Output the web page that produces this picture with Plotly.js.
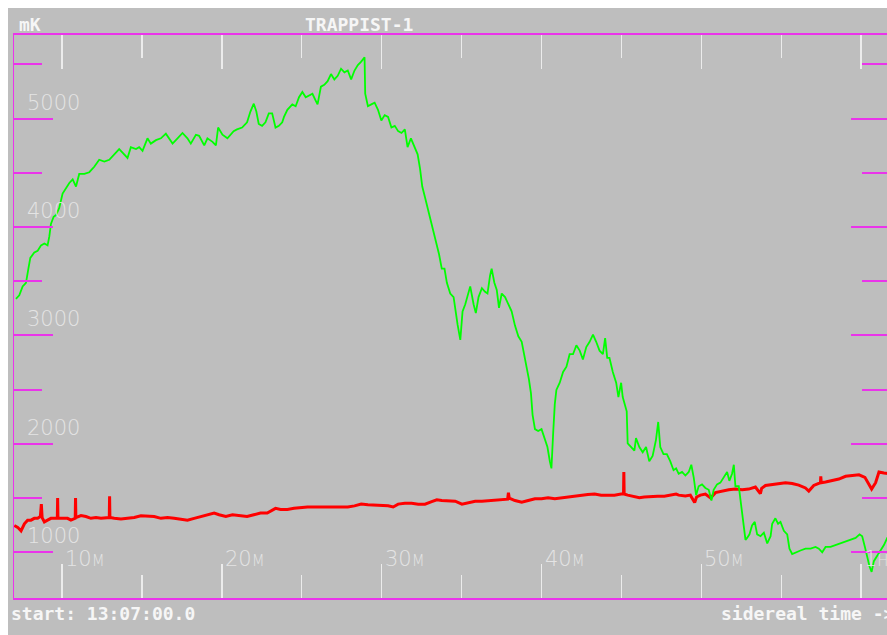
<!DOCTYPE html>
<html>
<head>
<meta charset="utf-8">
<script src="https://cdn.plot.ly/plotly-3.0.1.min.js"></script>
<style>
  html, body { margin: 0; padding: 0; background: #ffffff; overflow: hidden; }
  #wrap { position: absolute; left: 8px; top: 8px; }
</style>
</head>
<body>
<div id="wrap"><div id="chart"></div></div>
<script>
// ---- data (minutes after 13:00 sidereal, mK) ----
const chartTitle = "TRAPPIST-1";
const yUnit = "mK";
const startLabel = "start: 13:07:00.0";
const xAxisLabel = "sidereal time ->";

const yTickVals = [1000, 2000, 3000, 4000, 5000];
const yTickText = ["1000", "2000", "3000", "4000", "5000"];
const yMinorVals = [1500, 2500, 3500, 4500, 5500];
const xTickVals = [10, 20, 30, 40, 50, 60];
const xTickText = ["10m", "20m", "30m", "40m", "50m", "1h"];
const xMinorVals = [15, 25, 35, 45, 55];

const greenT = [7.12,7.33,7.54,7.75,7.90,8.02,8.27,8.48,8.69,8.90,9.10,9.21,9.31,9.48,9.63,9.83,10.04,10.25,10.46,10.67,10.88,11.08,11.40,11.71,12.02,12.33,12.65,12.96,13.27,13.58,13.79,14.10,14.31,14.63,14.83,15.04,15.35,15.56,15.88,16.19,16.50,16.71,16.92,17.23,17.54,17.85,18.06,18.38,18.58,18.90,19.10,19.42,19.63,19.77,20.04,20.35,
  20.74,20.95,21.27,21.58,21.79,22.00,22.16,22.31,22.52,22.73,22.94,23.15,23.36,23.57,23.78,23.89,24.10,24.41,24.62,24.83,25.04,25.25,25.46,25.67,25.88,25.99,26.20,26.41,26.62,26.83,27.04,27.25,27.46,27.67,27.88,28.09,28.30,28.51,28.72,28.93,28.97,29.14,29.35,29.56,29.77,29.98,30.19,30.40,30.61,30.82,31.03,31.24,31.45,31.62,31.83,32.08,32.25,32.40,32.54,32.71,32.88,33.03,33.24,33.45,33.59,33.76,33.93,34.08,34.29,34.50,34.64,
  34.75,34.92,35.06,35.23,35.44,35.54,35.75,35.89,36.06,36.27,36.47,36.62,36.78,36.88,37.05,37.20,37.34,37.51,37.72,37.93,38.13,38.34,38.55,38.76,38.92,39.07,39.21,39.34,39.44,39.59,39.79,40.00,40.21,40.37,40.52,40.62,40.73,40.83,40.93,41.14,41.35,41.56,41.76,41.97,42.18,42.39,42.59,42.80,43.01,43.22,43.42,43.63,43.84,43.98,44.11,44.25,44.46,44.67,44.81,44.98,45.08,45.22,45.33,45.39,45.60,45.81,45.91,46.12,46.33,46.54,46.74,46.95,47.16,47.30,47.43,47.63,47.84,48.05,48.26,
  48.42,48.58,48.79,49.00,49.21,49.37,49.52,49.67,49.83,50.04,50.25,50.46,50.63,50.77,50.98,51.19,51.40,51.61,51.75,51.92,52.03,52.13,52.34,52.44,52.55,52.65,52.76,52.86,53.01,53.17,53.34,53.49,53.70,53.91,54.12,54.33,54.43,54.63,54.80,54.95,55.16,55.37,55.51,55.68,55.89,56.20,56.51,56.83,57.14,57.35,57.56,57.77,58.08,58.39,58.71,59.02,59.33,59.65,59.90,60.06,60.23,60.38,60.52,60.65,60.79,61.00,61.21,61.42,61.63,61.80];
const greenMK = [3338,3370,3453,3486,3617,3716,3765,3782,3831,3848,3831,3914,4029,4095,4111,4177,4309,4358,4407,4440,4374,4490,4490,4506,4556,4621,4605,4621,4671,4720,4687,4638,4737,4720,4737,4704,4819,4770,4802,4819,4862,4819,4770,4819,4868,4819,4770,4852,4842,4753,4819,4786,4753,4918,4852,4819,
  4885,4901,4918,4967,5066,5138,5066,4951,4934,4967,5049,5049,4918,4934,4967,5016,5082,5132,5115,5198,5247,5198,5214,5230,5165,5132,5296,5313,5346,5412,5362,5395,5461,5428,5444,5362,5444,5494,5527,5566,5230,5115,5132,5148,5082,4984,5033,5016,4918,4934,4885,4868,4901,4737,4819,4720,4671,4539,4374,4276,4177,4078,3979,3848,3749,3617,3617,3486,3387,3354,3189,
  3100,2959,3222,3288,3420,3453,3288,3206,3354,3436,3403,3387,3551,3617,3486,3420,3255,3387,3354,3288,3222,3091,2992,2942,2827,2695,2597,2465,2268,2136,2119,2136,2037,1971,1840,1774,2103,2366,2498,2564,2663,2712,2827,2827,2909,2860,2778,2893,2942,3008,2942,2860,2827,2975,2794,2794,2663,2564,2432,2564,2432,2350,2300,2004,1971,1938,2053,1971,1922,1971,1840,1889,2037,2202,1971,1905,1905,1840,1757,
  1774,1724,1741,1708,1741,1807,1691,1527,1609,1626,1593,1576,1477,1576,1626,1642,1691,1741,1659,1724,1807,1609,1609,1477,1346,1247,1115,1132,1165,1247,1280,1165,1148,1181,1082,1148,1263,1313,1263,1280,1198,1165,1033,984,1000,1016,1033,1033,1049,1033,1000,1049,1049,1066,1082,1099,1115,1132,1165,1148,1049,951,868,819,918,967,1016,1066,1132,1150];

const redT = [7.02,7.23,7.44,7.65,7.85,8.06,8.27,8.48,8.65,8.71,8.76,8.90,9.10,9.31,9.52,9.71,9.73,9.75,9.94,10.15,10.35,10.56,10.83,10.85,10.87,11.19,11.50,11.81,12.13,12.44,12.75,12.96,12.98,13.00,13.27,13.69,14.10,14.52,14.94,15.35,15.77,16.19,16.60,17.02,17.44,17.85,18.27,18.69,19.10,19.52,19.83,20.25,20.67,
  21.16,21.58,22.00,22.42,22.84,23.15,23.36,23.68,24.10,24.52,24.94,25.36,25.78,26.20,26.62,27.04,27.46,27.88,28.30,28.72,29.14,29.56,29.98,30.40,30.72,31.03,31.45,31.87,32.29,32.71,33.13,33.45,33.76,34.18,34.60,
  35.02,35.44,35.85,36.27,36.68,37.10,37.51,37.88,37.93,37.98,38.34,38.76,39.17,39.59,40.00,40.41,40.83,41.24,41.66,42.07,42.49,42.90,43.32,43.73,44.15,44.56,44.98,45.13,45.15,45.17,45.39,45.81,46.12,46.43,46.85,47.26,47.68,48.10,
  48.42,48.58,49.00,49.31,49.58,49.70,49.94,50.25,50.58,50.88,51.30,51.71,52.13,52.55,52.96,53.38,53.69,53.77,54.01,54.43,54.84,55.26,55.68,56.09,56.51,56.72,57.03,57.45,57.47,57.50,57.77,58.18,58.60,59.02,59.44,59.86,60.23,60.48,60.65,60.90,61.11,61.42,61.63,61.80];
const redMK = [1247,1230,1198,1263,1296,1296,1313,1313,1330,1444,1320,1280,1296,1313,1313,1313,1500,1313,1313,1313,1313,1296,1313,1500,1320,1339,1330,1313,1320,1313,1320,1320,1517,1320,1313,1306,1313,1320,1336,1330,1330,1313,1320,1313,1306,1296,1313,1330,1346,1362,1346,1330,1346,
  1336,1330,1346,1362,1362,1385,1405,1395,1395,1405,1412,1418,1418,1418,1412,1412,1412,1418,1428,1444,1438,1434,1434,1428,1418,1444,1451,1451,1444,1444,1467,1484,1477,1471,1471,
  1444,1461,1471,1471,1477,1477,1484,1490,1550,1500,1477,1461,1477,1494,1494,1503,1494,1503,1510,1517,1527,1533,1537,1527,1527,1527,1537,1537,1741,1537,1527,1517,1503,1510,1517,1517,1517,1527,
  1537,1527,1520,1527,1460,1510,1527,1537,1500,1550,1566,1576,1583,1576,1583,1602,1540,1590,1616,1626,1632,1642,1635,1619,1593,1565,1616,1642,1700,1642,1649,1659,1675,1701,1708,1714,1691,1626,1583,1642,1741,1731,1724,1724];

// ---- styling ----
const BG = "#bebebe";
const MAGENTA = "#ea34ea";
const TICKWHITE = "#ececec";
const LABELGRAY = "#e4e4e4";
const thinFont = {family: "DejaVu Sans", size: 21, color: LABELGRAY, weight: 200};
const boldFont = {family: "DejaVu Sans Mono", size: 18, color: "#f6f6f6", weight: "bold"};

const traces = [
  {x: redT, y: redMK, type: "scatter", mode: "lines", line: {color: "#ff0000", width: 3}, hoverinfo: "skip"},
  {x: greenT, y: greenMK, type: "scatter", mode: "lines", line: {color: "#00ff00", width: 1.8}, hoverinfo: "skip"}
];

const annotations = [];
yTickVals.forEach((v, i) => annotations.push({
  xref: "paper", x: 0, xanchor: "left", xshift: 11,
  yref: "y", y: v, yanchor: "middle", yshift: 16,
  text: yTickText[i], showarrow: false, font: thinFont
}));
xTickVals.forEach((v, i) => annotations.push({
  xref: "x", x: v, xanchor: "left", xshift: 1,
  yref: "paper", y: 0, yanchor: "middle", yshift: 39,
  text: xTickText[i], showarrow: false,
  font: Object.assign({}, thinFont, {variant: "small-caps"})
}));
annotations.push({xref: "paper", x: 0, xanchor: "left", xshift: 3, yref: "paper", y: 1, yanchor: "middle", yshift: 11,
  text: yUnit, showarrow: false, font: boldFont});
annotations.push({xref: "paper", x: 0, xanchor: "left", xshift: 289, yref: "paper", y: 1, yanchor: "middle", yshift: 11,
  text: chartTitle, showarrow: false, font: boldFont});
annotations.push({xref: "paper", x: 0, xanchor: "left", xshift: -5, yref: "paper", y: 0, yanchor: "middle", yshift: -15,
  text: startLabel, showarrow: false, font: boldFont});
annotations.push({xref: "paper", x: 0, xanchor: "left", xshift: 705, yref: "paper", y: 0, yanchor: "middle", yshift: -15,
  text: xAxisLabel, showarrow: false, font: boldFont});

const layout = {
  width: 900, height: 640,
  margin: {l: 6, r: 18, t: 27, b: 50, pad: 0},
  paper_bgcolor: BG, plot_bgcolor: BG,
  showlegend: false,
  xaxis: {
    range: [7.0, 61.8], showgrid: false, zeroline: false,
    showline: true, linecolor: MAGENTA, linewidth: 2, mirror: "ticks",
    ticks: "inside", tickvals: xTickVals, ticklen: 34, tickwidth: 1.5, tickcolor: TICKWHITE,
    showticklabels: false,
    minor: {tickvals: xMinorVals, ticks: "inside", ticklen: 23, tickwidth: 1.5, tickcolor: TICKWHITE, showgrid: false}
  },
  yaxis: {
    range: [578, 5772], showgrid: false, zeroline: false,
    showline: true, linecolor: MAGENTA, linewidth: 1.5, mirror: "ticks",
    ticks: "inside", tickvals: yTickVals, ticklen: 39, tickwidth: 2, tickcolor: MAGENTA,
    showticklabels: false,
    minor: {tickvals: yMinorVals, ticks: "inside", ticklen: 28, tickwidth: 2, tickcolor: MAGENTA, showgrid: false}
  },
  annotations: annotations
};

Plotly.newPlot("chart", traces, layout, {displayModeBar: false, staticPlot: true});
</script>
</body>
</html>
